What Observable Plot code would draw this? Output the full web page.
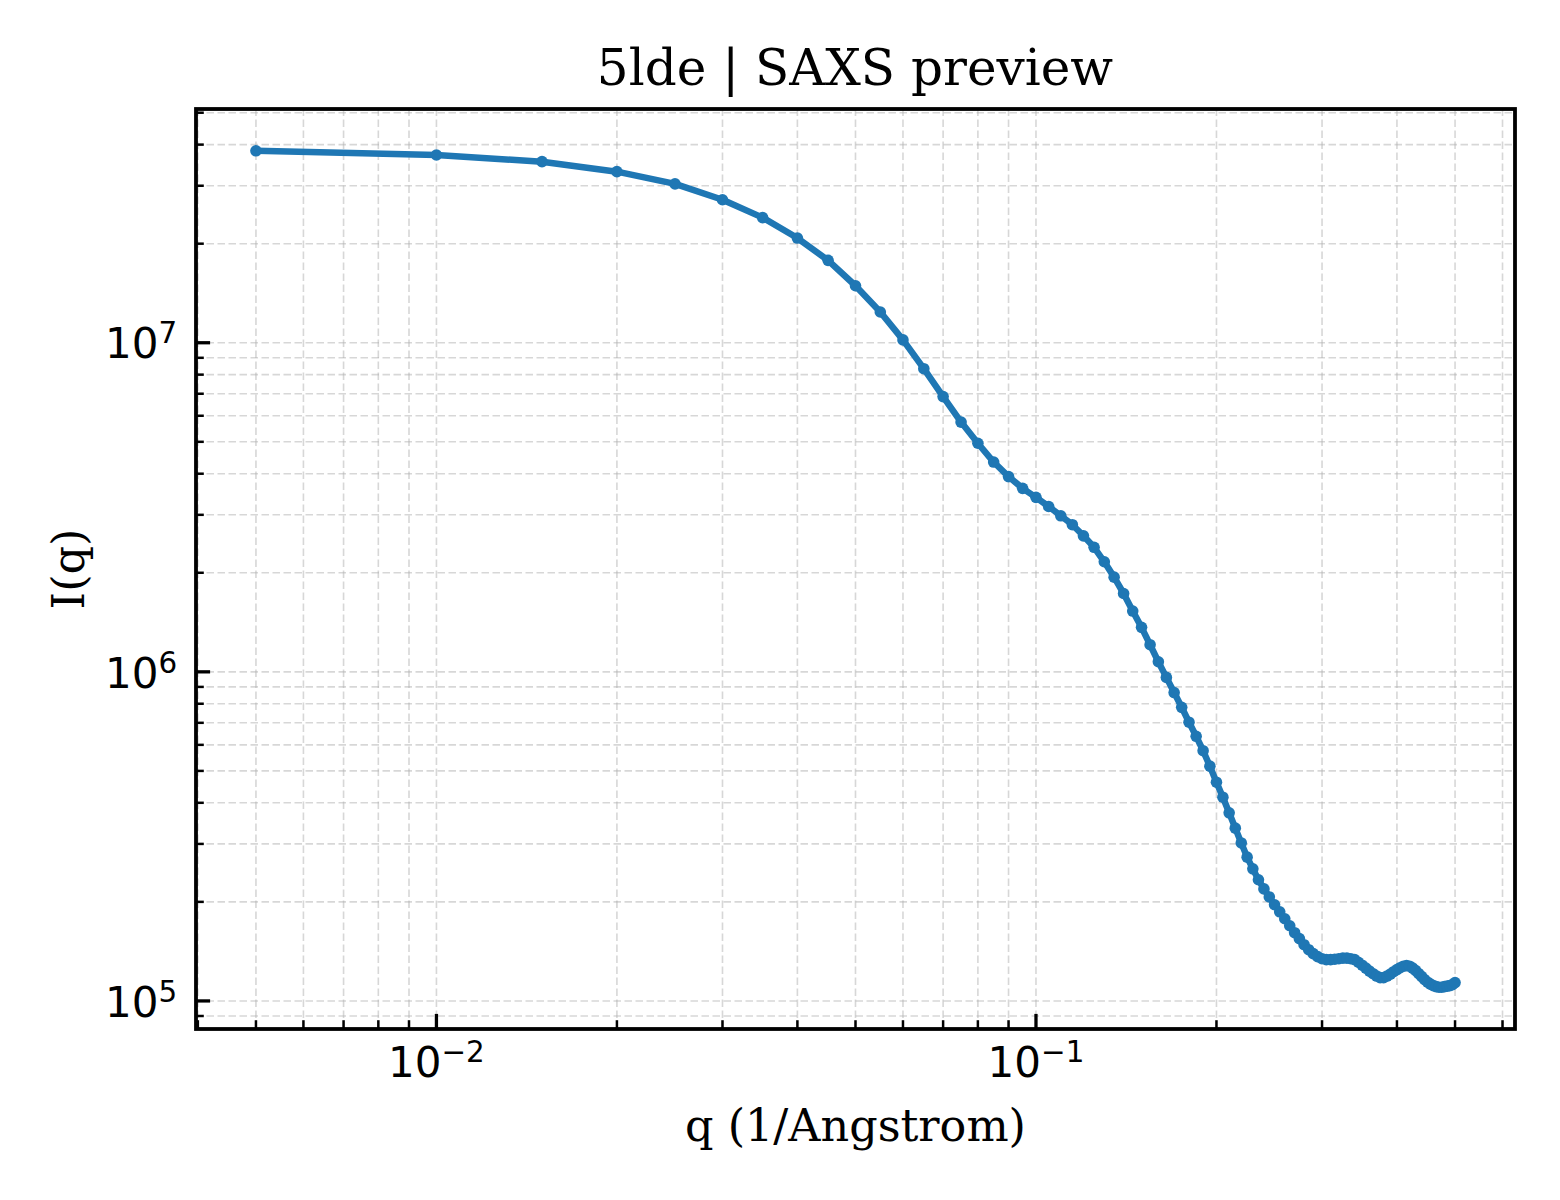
<!DOCTYPE html>
<html>
<head>
<meta charset="utf-8">
<script src="https://cdn.jsdelivr.net/npm/d3@7"></script>
<script src="https://cdn.jsdelivr.net/npm/@observablehq/plot@0.6"></script>
<style>
  html, body { margin: 0; padding: 0; background: #ffffff; }
  #wrap { position: relative; width: 1560px; height: 1200px; overflow: hidden; }
  #title { position: absolute; left: 195.5px; top: 0; width: 1319px; height: 100px; box-sizing: border-box;
           padding-top: 43.1px; text-align: center; font-family: "DejaVu Serif", serif; font-size: 50px;
           line-height: 50px; color: #000; white-space: nowrap; }
  #chart { position: absolute; left: 0; top: 100px; }
</style>
</head>
<body>
<div id="wrap">
  <div id="title">5lde | SAXS preview</div>
  <div id="chart"></div>
</div>
<script>
// ---- data (q in 1/Angstrom, I(q)) ----
const q = [
  0.005, 0.010, 0.015, 0.020, 0.025, 0.030, 0.035, 0.040, 0.045, 0.050,
  0.055, 0.060, 0.065, 0.070, 0.075, 0.080, 0.085, 0.090, 0.095, 0.100,
  0.105, 0.110, 0.115, 0.120, 0.125, 0.130, 0.135, 0.140, 0.145, 0.150,
  0.155, 0.160, 0.165, 0.170, 0.175, 0.180, 0.185, 0.190, 0.195, 0.200,
  0.205, 0.210, 0.215, 0.220, 0.225, 0.230, 0.235, 0.240, 0.245, 0.250,
  0.255, 0.260, 0.265, 0.270, 0.275, 0.280, 0.285, 0.290, 0.295, 0.300,
  0.305, 0.310, 0.315, 0.320, 0.325, 0.330, 0.335, 0.340, 0.345, 0.350,
  0.355, 0.360, 0.365, 0.370, 0.375, 0.380, 0.385, 0.390, 0.395, 0.400,
  0.405, 0.410, 0.415, 0.420, 0.425, 0.430, 0.435, 0.440, 0.445, 0.450,
  0.455, 0.460, 0.465, 0.470, 0.475, 0.480, 0.485, 0.490, 0.495, 0.500
];
const intensity = [
  3.83e7, 3.72e7, 3.55e7, 3.31e7, 3.04e7, 2.72e7, 2.40e7, 2.08e7, 1.78e7, 1.49e7,
  1.24e7, 1.02e7, 8.34e6, 6.86e6, 5.74e6, 4.95e6, 4.34e6, 3.92e6, 3.61e6, 3.39e6,
  3.18e6, 2.98e6, 2.80e6, 2.59e6, 2.39e6, 2.16e6, 1.94e6, 1.73e6, 1.53e6, 1.365e6,
  1.209e6, 1.073e6, 9.62e5, 8.65e5, 7.80e5, 7.03e5, 6.37e5, 5.76e5, 5.17e5, 4.62e5,
  4.16e5, 3.73e5, 3.35e5, 3.02e5, 2.735e5, 2.52e5, 2.335e5, 2.19e5, 2.07e5, 1.96e5,
  1.866e5, 1.777e5, 1.692e5, 1.612e5, 1.546e5, 1.482e5, 1.431e5, 1.392e5, 1.363e5, 1.344e5,
  1.335e5, 1.335e5, 1.339e5, 1.344e5, 1.349e5, 1.349e5, 1.344e5, 1.335e5, 1.311e5, 1.284e5,
  1.258e5, 1.232e5, 1.210e5, 1.190e5, 1.177e5, 1.177e5, 1.190e5, 1.206e5, 1.227e5, 1.245e5,
  1.262e5, 1.275e5, 1.280e5, 1.275e5, 1.258e5, 1.236e5, 1.210e5, 1.185e5, 1.160e5, 1.140e5,
  1.125e5, 1.113e5, 1.105e5, 1.101e5, 1.101e5, 1.105e5, 1.109e5, 1.113e5, 1.121e5, 1.137e5
];

// ---- ticks ----
const xMajorTicks = [0.01, 0.1];
const xTickLabels = ["10^\u22122", "10^\u22121"];
const xMinorTicks = [0.004, 0.005, 0.006, 0.007, 0.008, 0.009,
                     0.02, 0.03, 0.04, 0.05, 0.06, 0.07, 0.08, 0.09,
                     0.2, 0.3, 0.4, 0.5, 0.6];
const yMajorTicks = [1e5, 1e6, 1e7];
const yTickLabels = ["10^5", "10^6", "10^7"];
const yMinorTicks = [9e4,
                     2e5, 3e5, 4e5, 5e5, 6e5, 7e5, 8e5, 9e5,
                     2e6, 3e6, 4e6, 5e6, 6e6, 7e6, 8e6, 9e6,
                     2e7, 3e7, 4e7, 5e7];

const xLabel = "q (1/Angstrom)";
const yLabel = "I(q)";

const data = q.map((v, i) => ({q: v, I: intensity[i]}));

// matplotlib-like 5% margins in log space
function logDomain(vals) {
  const lo = Math.log10(d3.min(vals)), hi = Math.log10(d3.max(vals));
  const m = (hi - lo) * 0.05;
  return [Math.pow(10, lo - m), Math.pow(10, hi + m)];
}

const W = 1560, H = 1100;
const mTop = 8.5, mBottom = 171.5, mLeft = 195.5, mRight = 45.5;
const frameH = H - mTop - mBottom;
const frameW = W - mLeft - mRight;

const blue = "#1f77b4";
const gridStyle = {stroke: "#b0b0b0", strokeOpacity: 0.5, strokeWidth: 1.6, strokeDasharray: "7.5,3.5"};
const tickFont = "'DejaVu Sans', sans-serif";
const labelFont = "'DejaVu Serif', serif";
const labelSize = 44.5;

const xFmt = d => xTickLabels[xMajorTicks.indexOf(d)];
const yFmt = d => yTickLabels[yMajorTicks.indexOf(d)];

const chart = Plot.plot({
  width: W,
  height: H,
  marginTop: mTop,
  marginBottom: mBottom,
  marginLeft: mLeft,
  marginRight: mRight,
  style: {background: "#ffffff", color: "#000000", overflow: "visible"},
  x: {type: "log", domain: logDomain(q), axis: null},
  y: {type: "log", domain: logDomain(intensity), axis: null},
  marks: [
    Plot.gridX(xMinorTicks, gridStyle),
    Plot.gridX(xMajorTicks, gridStyle),
    Plot.gridY(yMinorTicks, gridStyle),
    Plot.gridY(yMajorTicks, gridStyle),
    Plot.line(data, {x: "q", y: "I", stroke: blue, strokeWidth: 6.5, strokeLinejoin: "round", strokeLinecap: "butt"}),
    Plot.dot(data, {x: "q", y: "I", r: 5.8, fill: blue, stroke: null}),
    Plot.frame({stroke: "#000", strokeWidth: 3.8}),
    // inward ticks (bottom and left only)
    Plot.tickX(xMajorTicks, {x: d => d, insetTop: frameH - 14.6, stroke: "#000", strokeWidth: 3.3}),
    Plot.tickX(xMinorTicks, {x: d => d, insetTop: frameH - 8.3, stroke: "#000", strokeWidth: 2.5}),
    Plot.tickY(yMajorTicks, {y: d => d, insetRight: frameW - 14.6, stroke: "#000", strokeWidth: 3.3}),
    Plot.tickY(yMinorTicks, {y: d => d, insetRight: frameW - 8.3, stroke: "#000", strokeWidth: 2.5}),
    // tick labels
    Plot.axisX(xMajorTicks, {anchor: "bottom", tickSize: 0, tickPadding: 17.7, tickFormat: xFmt,
      fontSize: 42, fontFamily: tickFont, label: null}),
    Plot.axisY(yMajorTicks, {anchor: "left", tickSize: 0, tickPadding: 18.8, tickFormat: yFmt,
      fontSize: 42, fontFamily: tickFont, label: null, dy: 2.3}),
    // axis labels
    Plot.text([xLabel], {frameAnchor: "bottom", lineAnchor: "middle", textAnchor: "middle",
      dy: 1040 - frameH - mTop - 0.32 * labelSize, fontSize: labelSize, fontFamily: labelFont, fill: "#000"}),
    Plot.text([yLabel], {frameAnchor: "left", lineAnchor: "middle", textAnchor: "middle", rotate: -90,
      dx: 83.5 - 0.32 * labelSize - mLeft, fontSize: labelSize, fontFamily: labelFont, fill: "#000"})
  ]
});

// render exponents as superscripts
function supify(svg, label) {
  d3.select(svg).selectAll(`g[aria-label="${label}"] text`).each(function () {
    const t = this.textContent;
    const parts = t.split("^");
    if (parts.length < 2) return;
    const sel = d3.select(this);
    sel.text(null);
    sel.append("tspan").text(parts[0]);
    sel.append("tspan").attr("dy", -15).attr("font-size", 29.4).text(parts[1]);
  });
}
supify(chart, "x-axis tick label");
supify(chart, "y-axis tick label");

document.getElementById("chart").appendChild(chart);
</script>
</body>
</html>
